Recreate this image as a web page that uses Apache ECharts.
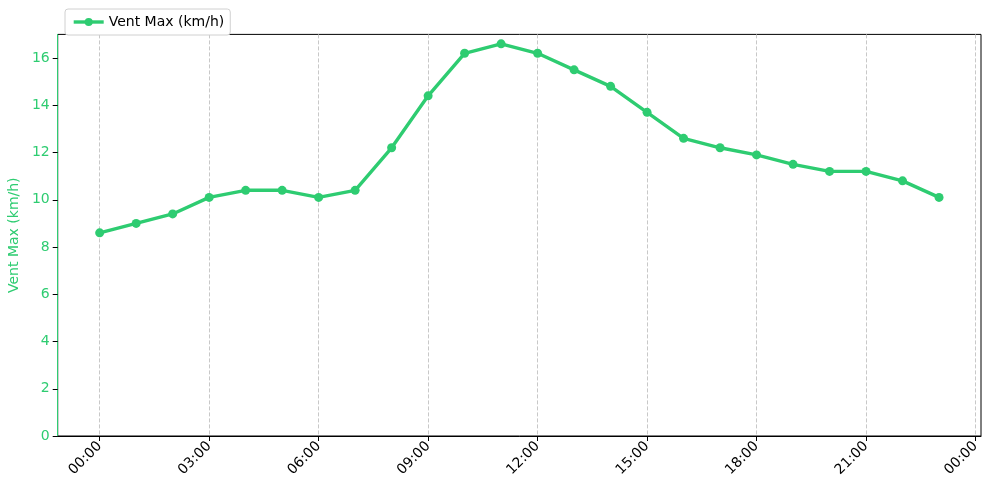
<!DOCTYPE html>
<html><head><meta charset="utf-8">
<script src="https://cdn.jsdelivr.net/npm/echarts@6/dist/echarts.min.js"></script>
<style>html,body{margin:0;padding:0;background:#fff}#c{width:989px;height:494px}</style>
</head><body><div id="c"></div>
<script>
const hours = [0,1,2,3,4,5,6,7,8,9,10,11,12,13,14,15,16,17,18,19,20,21,22,23];
const ventMax = [8.6,9.0,9.4,10.1,10.4,10.4,10.1,10.4,12.2,14.4,16.2,16.6,16.2,15.5,14.8,13.7,12.6,12.2,11.9,11.5,11.2,11.2,10.8,10.1];
const xTicks = [0,3,6,9,12,15,18,21,24];
const xTickLabels = ['00:00','03:00','06:00','09:00','12:00','15:00','18:00','21:00','00:00'];
const yTicks = [0,2,4,6,8,10,12,14,16];
const seriesName = 'Vent Max (km/h)';
const green = '#2ecc71';
const font = 'DejaVu Sans';

const chart = echarts.init(document.getElementById('c'));
chart.setOption({
  animation: false,
  textStyle: {fontFamily: font},
  legend: {
    data: [seriesName], left: 65, top: 9, orient: 'horizontal',
    padding: [6, 6, 6, 7], itemWidth: 30, itemHeight: 10, itemGap: 8,
    borderColor: '#d0d0d0', borderWidth: 1, borderRadius: 3, backgroundColor: '#fff',
    lineStyle: {width: 3.4},
    textStyle: {fontFamily: font, fontSize: 14, color: '#000'}
  },
  grid: {left: 57.7, right: 8, top: 34.4, bottom: 58, outerBoundsMode: 'none', containLabel: false,
    show: true, borderColor: '#000', borderWidth: 1, backgroundColor: 'transparent'},
  xAxis: {
    type: 'value', min: -1.15, max: 24.15,
    axisLine: {show: true, onZero: false, lineStyle: {color: '#000', width: 1}},
    axisTick: {show: true, length: 5, lineStyle: {color: '#000'}, customValues: xTicks},
    axisLabel: {show: true, rotate: 45, margin: 8, fontSize: 14, color: '#000', fontFamily: font, customValues: xTicks,
      formatter: v => xTickLabels[xTicks.indexOf(Math.round(v))] || ''},
    splitLine: {show: true, lineStyle: {color: '#c8c8c8', type: [4, 2], width: 1}}
  },
  yAxis: {
    type: 'value', min: 0, max: 17,
    name: seriesName, nameLocation: 'middle', nameGap: 33, nameRotate: 90,
    nameTextStyle: {color: green, fontSize: 14, fontFamily: font},
    axisLine: {show: true, onZero: false, lineStyle: {color: green, width: 1}},
    axisTick: {show: true, length: 5, lineStyle: {color: '#000'}, customValues: yTicks},
    axisLabel: {show: true, margin: 8, fontSize: 14, color: green, fontFamily: font, customValues: yTicks},
    splitLine: {show: false}
  },
  series: [{
    name: seriesName, type: 'line',
    data: hours.map((h, i) => [h, ventMax[i]]),
    symbol: 'circle', symbolSize: 9,
    lineStyle: {color: green, width: 3.4},
    itemStyle: {color: green},
    z: 5
  }]
});
</script></body></html>
